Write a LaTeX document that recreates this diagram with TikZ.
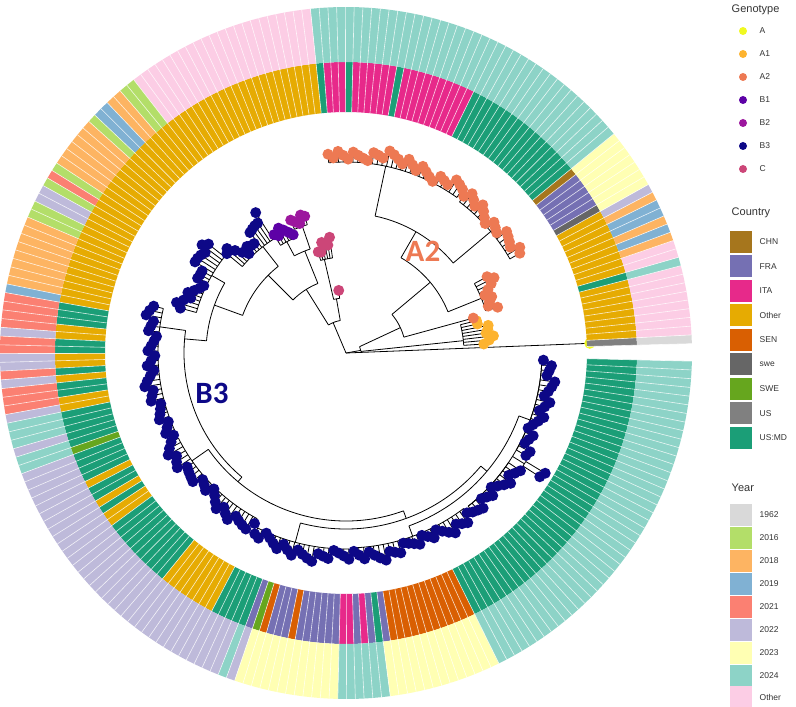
\documentclass[tikz,border=0pt]{standalone}
\usepackage{fontspec}
\setmainfont{Liberation Sans}
\newfontfamily\labfont{Carlito}
\definecolor{cUS}{HTML}{808080}
\definecolor{cOther}{HTML}{E6AB02}
\definecolor{cUSMD}{HTML}{1B9E77}
\definecolor{cswe}{HTML}{666666}
\definecolor{cFRA}{HTML}{7570B3}
\definecolor{cCHN}{HTML}{A6761D}
\definecolor{cITA}{HTML}{E7298A}
\definecolor{cSWE}{HTML}{66A61E}
\definecolor{cSEN}{HTML}{D95F02}
\definecolor{yrGray}{HTML}{D9D9D9}
\definecolor{yrGreen}{HTML}{B3DE69}
\definecolor{yrOrange}{HTML}{FDB462}
\definecolor{yrBlue}{HTML}{80B1D3}
\definecolor{yrRed}{HTML}{FB8072}
\definecolor{yrLav}{HTML}{BEBADA}
\definecolor{yrYel}{HTML}{FFFFB3}
\definecolor{yrTeal}{HTML}{8DD3C7}
\definecolor{yrPink}{HTML}{FCCDE5}
\definecolor{gA}{HTML}{F0F921}
\definecolor{gAa}{HTML}{FDB32F}
\definecolor{gAb}{HTML}{ED7953}
\definecolor{gBa}{HTML}{5D01A6}
\definecolor{gBb}{HTML}{9C179E}
\definecolor{gBc}{HTML}{0D0887}
\definecolor{gC}{HTML}{CC4678}
\newcommand\ringseg[5]{\fill[fill=#5] ({bb(#1)}:#3pt) arc[start angle={bb(#1)}, end angle={bb(#2+1)}, radius=#3pt] -- ({bb(#2+1)}:#4pt) arc[start angle={bb(#2+1)}, end angle={bb(#1)}, radius=#4pt] -- cycle;}
\newcommand\rad[3]{\draw ({#1}:#2pt) -- ({#1}:#3pt);}
\newcommand\arcc[3]{\draw ({#2}:#1pt) arc[start angle={#2}, end angle={#3}, radius=#1pt];}
\newcommand\tipr[3]{\pgfmathsetmacro\rr{#2+#3*(0.5+0.5*sin(23*#1))+9*mod(37*#1,7)/6}}
\newcommand\comblines[6]{%
  \draw ({tt(#1)}:#3pt) arc[start angle={tt(#1)}, end angle={tt(#2)}, radius=#3pt];
  \foreach \k in {#1,...,#2}{\tipr{\k}{#4}{#5}\draw ({tt(\k)}:#3pt) -- ({tt(\k)}:\rr pt);}}
\newcommand\combdots[6]{%
  \foreach \k in {#1,...,#2}{\tipr{\k}{#4}{#5}\fill[fill=#6] ({tt(\k)}:\rr pt) circle[radius=5.5pt];}}
\newcommand\alltips{%
 \tg{1}{8}{118}{124}{16}{gAa}%
 \tg{10}{18}{146}{148}{12}{gAb}%
 \tg{19}{35}{189}{190}{6}{gAb}%
 \tg{36}{64}{191}{192}{6}{gAb}%
 \tg{66}{71}{96}{98}{10}{gC}%
 \tg{72}{76}{134}{136}{4}{gBb}%
 \tg{77}{82}{126}{128}{6}{gBa}%
 \tg{83}{95}{135}{138}{22}{gBc}%
 \tg{96}{112}{155}{157}{16}{gBc}%
 \tg{113}{140}{188}{189}{6}{gBc}%
 \tg{141}{165}{188}{189}{8}{gBc}%
 \tg{166}{185}{196}{197}{6}{gBc}%
 \tg{186}{210}{195}{196}{6}{gBc}%
 \tg{211}{223}{196}{197}{6}{gBc}%
 \tg{226}{245}{196}{197}{6}{gBc}%
 \tg{224}{225}{210}{228}{2}{gBc}%
}
\tikzset{
  legtitle/.style={anchor=west, font=\fontsize{11}{13}\selectfont, text=black!80},
  leglab/.style={anchor=west, font=\fontsize{8.5}{10}\selectfont, text=black!80},
  cladelab/.style={font=\labfont\bfseries\fontsize{31}{34}\selectfont}
}
\begin{document}
\begin{tikzpicture}[x=1pt,y=1pt,line width=0.8pt,
  declare function={bb(\k)=1.55+1.4516*\k; tt(\k)=2.2758+1.4516*\k;}]
\useasboundingbox (-346,-354) rectangle (450,353);
% ---------- tree ----------
\coordinate (root) at (0,0);
\rad{tt(0)}{0}{244}
\rad{10}{0}{15}
\arcc{15}{6}{25}
\rad{6}{15}{118}
\rad{25}{15}{60}
\arcc{60}{tt(9)}{40}
\rad{tt(9)}{60}{132}
\rad{40}{60}{110}
\arcc{110}{22}{60}
\rad{22}{110}{146}
\rad{60}{110}{140}
\arcc{140}{40}{78}
\rad{40}{140}{189}
\rad{78}{140}{191}
\rad{113}{0}{33}
\arcc{33}{100}{122}
\rad{100}{33}{55}
\arcc{55}{tt(65)}{103}
\rad{tt(65)}{55}{63}
\rad{103}{55}{96}
\rad{122}{33}{75}
\arcc{75}{112}{135}
\rad{112}{75}{110}
\arcc{110}{109}{118}
\rad{109}{110}{134}
\rad{118}{110}{126}
\rad{135}{75}{110}
\arcc{110}{128}{160}
\rad{128}{110}{135}
\rad{160}{110}{140}
\arcc{140}{150}{175}
\rad{150}{140}{155}
\rad{175}{140}{162}
\arcc{162}{172}{230}
\rad{172}{162}{188}
\rad{230}{162}{168}
\arcc{168}{215}{290}
\rad{215}{168}{188}
\rad{290}{168}{176}
\arcc{176}{255}{320}
\rad{255}{176}{196}
\rad{320}{176}{184}
\arcc{184}{290}{340}
\rad{290}{184}{195}
\rad{340}{184}{196}
\arcc{196}{tt(211)}{tt(245)}
\rad{tt(224.5)}{196}{210}
\let\tg\comblines \alltips
\let\tg\combdots \alltips
\fill[gA] ({tt(0)}:244pt) circle[radius=5.5pt];
\fill[gAb] ({tt(9)}:132pt) circle[radius=5.5pt];
\fill[gC] ({tt(65)}:63pt) circle[radius=5.5pt];
% ---------- country ring ----------
\foreach \a/\b/\c in {0/0/cUS,1/8/cOther,9/9/cUSMD,10/18/cOther,19/19/cswe,20/24/cFRA,25/25/cCHN,26/42/cUSMD,43/52/cITA,53/53/cUSMD,54/59/cITA,60/60/cUSMD,61/63/cITA,64/64/cUSMD,65/115/cOther,116/118/cUSMD,119/120/cOther,121/122/cUSMD,123/124/cOther,125/125/cUSMD,126/126/cOther,127/128/cUSMD,129/130/cOther,131/135/cUSMD,136/136/cSWE,137/140/cUSMD,141/141/cOther,142/143/cUSMD,144/144/cOther,145/145/cUSMD,146/147/cOther,148/157/cUSMD,158/165/cOther,166/170/cUSMD,171/171/cFRA,172/172/cSWE,173/173/cSEN,174/176/cFRA,177/177/cSEN,178/183/cFRA,184/185/cITA,186/186/cFRA,187/187/cITA,188/188/cFRA,189/189/cUSMD,190/190/cFRA,191/202/cSEN,203/245/cUSMD}
  {\ringseg{\a}{\b}{241}{291}{\c}}
% ---------- year ring ----------
\foreach \a/\b/\c in {0/0/yrGray,1/8/yrPink,9/9/yrTeal,10/11/yrPink,12/12/yrOrange,13/13/yrBlue,14/14/yrOrange,15/16/yrBlue,17/17/yrOrange,18/18/yrLav,19/25/yrYel,26/64/yrTeal,65/86/yrPink,87/88/yrGreen,89/90/yrOrange,91/92/yrBlue,93/93/yrGreen,94/99/yrOrange,100/100/yrGreen,101/101/yrRed,102/102/yrGreen,103/104/yrLav,105/106/yrGreen,107/114/yrOrange,115/115/yrBlue,116/119/yrRed,120/120/yrLav,121/122/yrRed,123/124/yrLav,125/125/yrRed,126/126/yrLav,127/129/yrRed,130/130/yrLav,131/133/yrTeal,134/134/yrLav,135/136/yrTeal,137/169/yrLav,170/170/yrTeal,171/171/yrLav,172/183/yrYel,184/189/yrTeal,190/202/yrYel,203/245/yrTeal}
  {\ringseg{\a}{\b}{291}{346}{\c}}
\foreach \k in {0,...,246}
  {\draw[white, opacity=0.8, line width=0.6pt] ({bb(\k)}:241pt) -- ({bb(\k)}:346pt);}
% ---------- clade labels ----------
\node[cladelab, text=gAb] (labA2) at (77,102) {A2};
\node[cladelab, text=gBc] (labB3) at (-134,-40) {B3};
% ---------- legend ----------
\node[legtitle] (tG) at (382,343) {Genotype};
\foreach \n/\c/\y [count=\i] in {A/gA/31,A1/gAa/54,A2/gAb/77,B1/gBa/100,B2/gBb/123,B3/gBc/146,C/gC/169}{
  \fill[fill=\c] (397,353-\y) circle[radius=4pt];
  \node[leglab] (g\i) at (410,353-\y) {\n};
}
\node[legtitle] (tC) at (382,353-213) {Country};
\foreach \n/\c/\y [count=\i] in {CHN/cCHN/242,FRA/cFRA/266.5,ITA/cITA/291,Other/cOther/315.5,SEN/cSEN/340,swe/cswe/364.5,SWE/cSWE/389,US/cUS/413.5,US:MD/cUSMD/438}{
  \fill[fill=\c] (384,353-\y-11) rectangle (406,353-\y+11);
  \node[leglab] (c\i) at (410,353-\y) {\n};
}
\node[legtitle] (tY) at (382,353-488) {Year};
\foreach \n/\c/\y [count=\i] in {1962/yrGray/515,2016/yrGreen/538,2018/yrOrange/561,2019/yrBlue/584,2021/yrRed/607,2022/yrLav/630,2023/yrYel/653,2024/yrTeal/676,Other/yrPink/697}{
  \fill[fill=\c] (384,353-\y-11) rectangle (406,353-\y+11);
  \node[leglab] (y\i) at (410,353-\y) {\n};
}
\end{tikzpicture}
\end{document}
